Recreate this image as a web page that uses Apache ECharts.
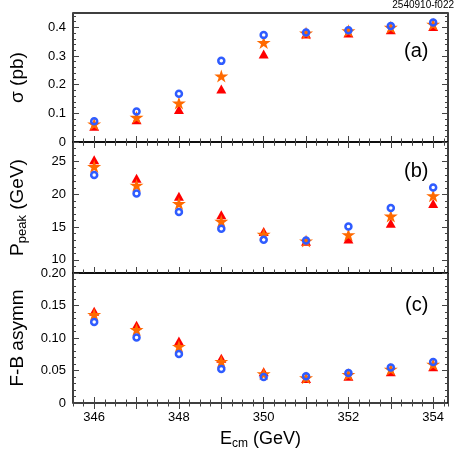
<!DOCTYPE html>
<html>
<head>
<meta charset="utf-8">
<script src="https://cdn.jsdelivr.net/npm/echarts@6/dist/echarts.min.js"></script>
<style>
  html, body { margin: 0; padding: 0; background: #fff; }
  #chart { width: 457px; height: 456px; }
</style>
</head>
<body>
<div id="chart"></div>
<script>
// --- data ---
const energies = [346, 347, 348, 349, 350, 351, 352, 353, 354];

// (a) cross section, pb
const sigmaCircle = [0.072, 0.106, 0.168, 0.283, 0.373, 0.382, 0.390, 0.405, 0.417];
const sigmaStar   = [0.063, 0.086, 0.136, 0.230, 0.347, 0.380, 0.388, 0.400, 0.411];
const sigmaTri    = [0.055, 0.078, 0.113, 0.185, 0.307, 0.377, 0.380, 0.392, 0.403];

// (b) peak momentum, GeV
const ppeakCircle = [22.97, 20.15, 17.3, 14.77, 13.07, 12.97, 15.1, 17.94, 21.07];
const ppeakStar   = [24.25, 21.4, 18.6, 15.9, 13.9, 12.9, 13.85, 16.7, 19.8];
const ppeakTri    = [25.3, 22.46, 19.7, 16.9, 14.35, 12.85, 13.2, 15.6, 18.6];

// (c) forward-backward asymmetry
const afbCircle = [0.1245, 0.1006, 0.0755, 0.0525, 0.040, 0.041, 0.046, 0.0546, 0.063];
const afbStar   = [0.136, 0.113, 0.087, 0.064, 0.045, 0.0387, 0.044, 0.052, 0.0597];
const afbTri    = [0.141, 0.1195, 0.0954, 0.069, 0.048, 0.0377, 0.041, 0.048, 0.0556];

// tick labels
const xTicks = [346, 347, 348, 349, 350, 351, 352, 353, 354];
const xLabels = [346, 348, 350, 352, 354];
const sigmaTicks = [0, 0.1, 0.2, 0.3, 0.4];
const ppeakTicks = [10, 15, 20, 25];
const afbTicks = [0, 0.05, 0.10, 0.15, 0.20];

const FONT = 'Liberation Sans';
const STAR = 'path://M50,0 L61,35 L98,35 L68,57 L79,91 L50,70 L21,91 L32,57 L2,35 L39,35 Z';
const tickStyle = { color: '#444', width: 1 };

const pairs = ys => energies.map((e, i) => [e, ys[i]]);

const grids = [
  { left: 64, top: 13, width: 384, height: 129 },
  { left: 64, top: 142, width: 384, height: 131 },
  { left: 64, top: 273, width: 384, height: 130 }
].map(g => Object.assign(g, { show: true, borderColor: '#000', borderWidth: 1.5, backgroundColor: 'transparent' }));

function xAxesFor(gi, withLabels) {
  const base = {
    type: 'value', gridIndex: gi, min: 345.5, max: 354.35,
    axisLine: { show: false }, splitLine: { show: false }
  };
  const out = [];
  ['bottom', 'top'].forEach(pos => {
    out.push(Object.assign({}, base, {
      position: pos,
      axisTick: { inside: true, length: 6, customValues: xTicks, lineStyle: tickStyle },
      axisLabel: {
        show: withLabels && pos === 'bottom', customValues: xLabels, margin: 8,
        color: '#000', fontFamily: FONT, fontSize: 13
      },
      name: withLabels && pos === 'bottom' ? '{m|E}{s|cm}{m| (GeV)}' : '',
      nameLocation: 'middle', nameGap: 25,
      nameTextStyle: {
        rich: {
          m: { fontFamily: FONT, fontSize: 18, color: '#000', lineHeight: 22 },
          s: { fontFamily: FONT, fontSize: 12, color: '#000', lineHeight: 14, verticalAlign: 'bottom' }
        }
      }
    }));
    out.push(Object.assign({}, base, {
      position: pos, interval: 0.25,
      axisTick: { inside: true, length: 3.5, lineStyle: tickStyle },
      axisLabel: { show: false }
    }));
  });
  return out;
}

function yAxesFor(gi, min, max, majors, minorStep, fmt, name) {
  const base = {
    type: 'value', gridIndex: gi, min: min, max: max,
    axisLine: { show: false }, splitLine: { show: false }
  };
  const out = [];
  ['left', 'right'].forEach(pos => {
    out.push(Object.assign({}, base, {
      position: pos,
      axisTick: { inside: true, length: 6, customValues: majors, lineStyle: tickStyle },
      axisLabel: {
        show: pos === 'left', customValues: majors, margin: 7,
        color: '#000', fontFamily: FONT, fontSize: 13, formatter: fmt
      },
      name: pos === 'left' ? name : '',
      nameLocation: 'middle', nameGap: 44,
      nameTextStyle: {
        rich: {
          m: { fontFamily: FONT, fontSize: 19, color: '#000', lineHeight: 23 },
          s: { fontFamily: FONT, fontSize: 13, color: '#000', lineHeight: 15, verticalAlign: 'bottom' }
        }
      }
    }));
    out.push(Object.assign({}, base, {
      position: pos, interval: minorStep,
      axisTick: { inside: true, length: 3, lineStyle: tickStyle },
      axisLabel: { show: false }
    }));
  });
  return out;
}

const xAxis = [].concat(xAxesFor(0, false), xAxesFor(1, false), xAxesFor(2, true));
const yAxis = [].concat(
  yAxesFor(0, 0, 0.45, sigmaTicks, 0.02, v => (v === 0 ? '0' : v.toFixed(1)), '{m|σ (pb)}'),
  yAxesFor(1, 8, 28, ppeakTicks, 1, v => String(v), '{m|P}{s|peak}{m| (GeV)}'),
  yAxesFor(2, 0, 0.2, afbTicks, 0.01, v => (v === 0 ? '0' : v.toFixed(2)), '{m|F-B asymm}')
);

function panelSeries(gi, tri, star, circ) {
  const axes = { xAxisIndex: gi * 4, yAxisIndex: gi * 4 };
  return [
    Object.assign({ type: 'scatter', data: pairs(tri), symbol: 'triangle', symbolSize: [10, 9],
      itemStyle: { color: '#ff0000', opacity: 1 }, z: 2 }, axes),
    Object.assign({ type: 'scatter', data: pairs(star), symbol: STAR, symbolSize: [14, 13],
      itemStyle: { color: '#ff6a00', opacity: 1 }, z: 3 }, axes),
    Object.assign({ type: 'scatter', data: pairs(circ), symbol: 'circle', symbolSize: 6,
      itemStyle: { color: 'transparent', borderColor: '#2f5cff', borderWidth: 2.5, opacity: 1 }, z: 4 }, axes)
  ];
}

const series = [].concat(
  panelSeries(0, sigmaTri, sigmaStar, sigmaCircle),
  panelSeries(1, ppeakTri, ppeakStar, ppeakCircle),
  panelSeries(2, afbTri, afbStar, afbCircle)
);

const labelStyle = { fontFamily: FONT, fontSize: 20, fill: '#000' };

const chart = echarts.init(document.getElementById('chart'), null, { renderer: 'canvas' });
chart.setOption({
  animation: false,
  backgroundColor: '#fff',
  grid: grids,
  xAxis: xAxis,
  yAxis: yAxis,
  series: series,
  graphic: [
    { type: 'text', right: 3, top: 0, style: { text: '2540910-f022', fontFamily: FONT, fontSize: 10, fill: '#000' } },
    { type: 'text', left: 404, top: 41, style: Object.assign({ text: '(a)' }, labelStyle) },
    { type: 'text', left: 404, top: 161, style: Object.assign({ text: '(b)' }, labelStyle) },
    { type: 'text', left: 405, top: 295, style: Object.assign({ text: '(c)' }, labelStyle) }
  ]
});
</script>
</body>
</html>
